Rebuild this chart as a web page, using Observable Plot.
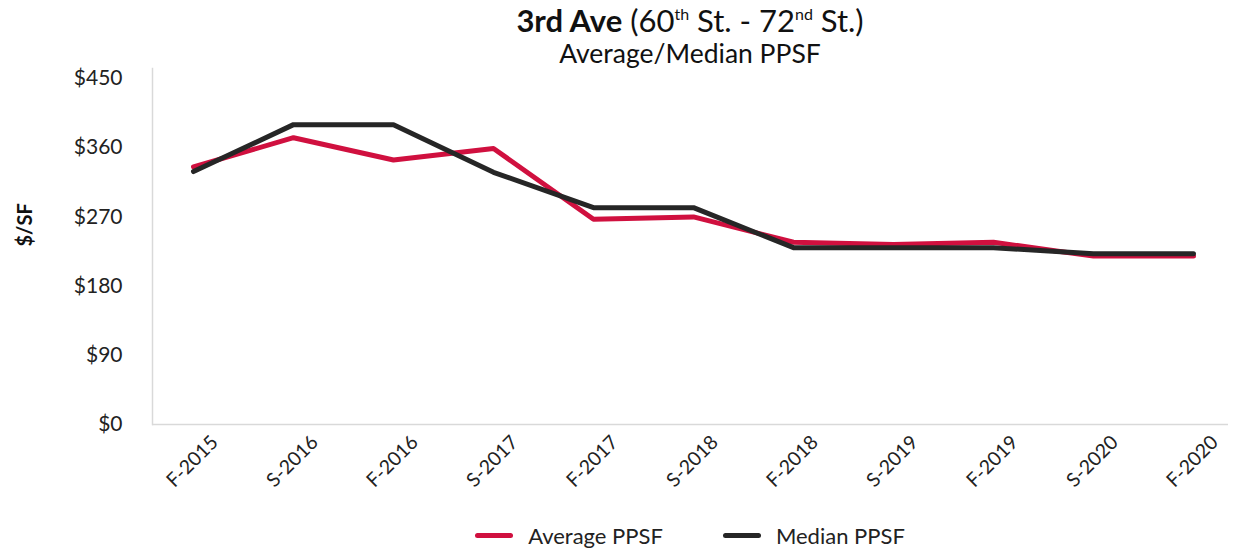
<!DOCTYPE html>
<html>
<head>
<meta charset="utf-8">
<script src="https://cdn.jsdelivr.net/npm/d3@7"></script>
<script src="https://cdn.jsdelivr.net/npm/@observablehq/plot@0.6"></script>
<style>
  body { margin: 0; background: #fff; font-family: Lato, "Open Sans", sans-serif; color: #111; }
  #wrap { width: 1236px; }
  #head { height: 62px; overflow: visible; position: relative; }
  .title { position: absolute; top: 3px; left: 152px; width: 1076px; text-align: center; font-size: 31px; line-height: 34px; }
  .title sup { font-size: 16px; vertical-align: 12px; line-height: 0; }
  .subtitle { position: absolute; top: 38px; left: 152px; width: 1076px; text-align: center; font-size: 26.5px; line-height: 30px; }
  .legend { display: flex; justify-content: center; align-items: center; margin-left: 152px; width: 1076px; font-size: 22px; color: #222; }
  .legend .item { display: flex; align-items: center; margin: 0 30px; }
  .legend .sw { width: 38px; height: 5px; border-radius: 3px; margin-right: 15px; }
</style>
</head>
<body>
<div id="wrap">
  <div id="head">
    <div class="title"><b>3rd Ave</b> (60<sup>th</sup> St. - 72<sup>nd</sup> St.)</div>
    <div class="subtitle">Average/Median PPSF</div>
  </div>
  <div id="chart"></div>
  <div class="legend" id="legend"></div>
</div>
<script>
const categories = ["F-2015","S-2016","F-2016","S-2017","F-2017","S-2018","F-2018","S-2019","F-2019","S-2020","F-2020"];
const averagePPSF = [335, 373, 344, 359, 267, 270, 237, 234, 237, 219, 219];
const medianPPSF  = [329, 390, 390, 328, 282, 282, 230, 230, 230, 222, 222];
const yTicks = [0, 90, 180, 270, 360, 450];
const seriesNames = ["Average PPSF", "Median PPSF"];
const seriesColors = ["#d0103f", "#262626"];

const avgData = categories.map((c, i) => ({cat: c, value: averagePPSF[i]}));
const medData = categories.map((c, i) => ({cat: c, value: medianPPSF[i]}));

const chart = Plot.plot({
  width: 1236,
  height: 448,
  marginTop: 6,
  marginLeft: 152,
  marginRight: 8,
  marginBottom: 86,
  style: { fontFamily: "Lato, sans-serif", fontSize: "19px", color: "#222", background: "#fff" },
  x: { type: "point", domain: categories, padding: 0, insetLeft: 38, insetRight: 32 },
  y: { domain: [0, 450], insetTop: 10 },
  marks: [
    Plot.frame({ anchor: "left", stroke: "#d9d9d9", strokeWidth: 1.5 }),
    Plot.ruleY([0], { stroke: "#d9d9d9", strokeWidth: 1.5 }),
    Plot.axisY({ ticks: yTicks, tickSize: 0, tickPadding: 30, tickFormat: d => "$" + d, label: null, fontSize: 21 }),
    Plot.axisX({ tickSize: 0, tickRotate: -45, tickPadding: 0, textAnchor: "middle", dy: 37, dx: -1, label: null, fontSize: 19.5 }),
    Plot.text(["$/SF"], { frameAnchor: "left", rotate: -90, dx: -127, fontWeight: "bold", fontSize: 20, fill: "#111" }),
    Plot.line(avgData, { x: "cat", y: "value", stroke: seriesColors[0], strokeWidth: 5, strokeLinejoin: "round", strokeLinecap: "round" }),
    Plot.line(medData, { x: "cat", y: "value", stroke: seriesColors[1], strokeWidth: 5, strokeLinejoin: "round", strokeLinecap: "round" })
  ]
});
document.getElementById("chart").appendChild(chart);

const legend = document.getElementById("legend");
legend.style.marginTop = "12px";
seriesNames.forEach((n, i) => {
  const it = document.createElement("div");
  it.className = "item";
  it.innerHTML = `<span class="sw" style="background:${seriesColors[i]}"></span><span>${n}</span>`;
  legend.appendChild(it);
});
</script>
</body>
</html>
